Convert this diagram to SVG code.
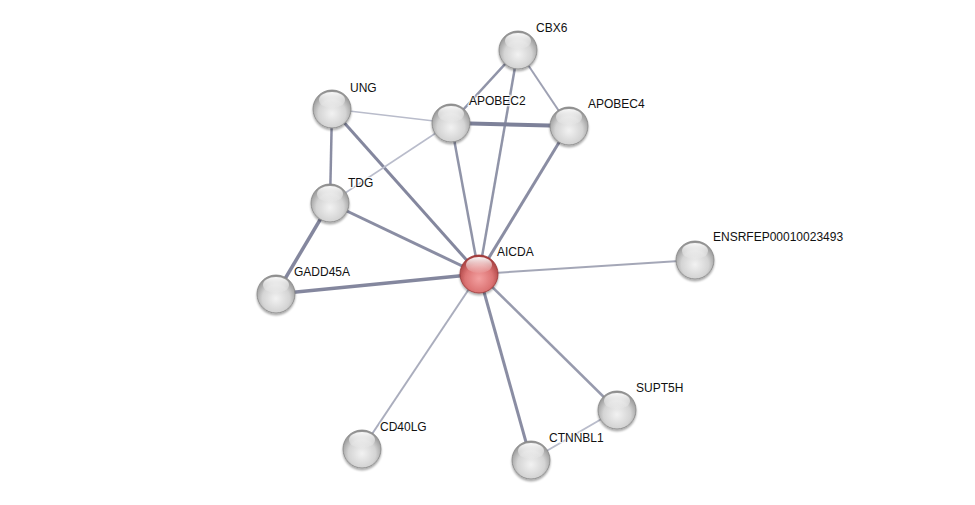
<svg xmlns="http://www.w3.org/2000/svg" width="975" height="505" viewBox="0 0 975 505">
<defs>
<radialGradient id="gGray" cx="0.5" cy="0.62" r="0.6">
<stop offset="0" stop-color="#f2f2f2"/>
<stop offset="0.6" stop-color="#d4d4d4"/>
<stop offset="1" stop-color="#909090"/>
</radialGradient>
<radialGradient id="gRed" cx="0.5" cy="0.62" r="0.6">
<stop offset="0" stop-color="#f3a0a0"/>
<stop offset="0.6" stop-color="#dc7474"/>
<stop offset="1" stop-color="#a33b3b"/>
</radialGradient>
<linearGradient id="hl" x1="0" y1="0" x2="0" y2="1">
<stop offset="0" stop-color="#ffffff" stop-opacity="0.95"/>
<stop offset="1" stop-color="#ffffff" stop-opacity="0.05"/>
</linearGradient>
<filter id="sh" x="-30%" y="-30%" width="160%" height="170%">
<feGaussianBlur in="SourceAlpha" stdDeviation="1.2"/>
<feOffset dy="1.5" result="b"/>
<feComponentTransfer><feFuncA type="linear" slope="0.35"/></feComponentTransfer>
<feMerge><feMergeNode/><feMergeNode in="SourceGraphic"/></feMerge>
</filter>
</defs>
<style>
.e{stroke:#7d8199;stroke-linecap:butt;fill:none}
.lt{stroke:#b9bccb}
.n{fill:url(#gGray);stroke:#858585;stroke-width:0.8;filter:url(#sh)}
.r{fill:url(#gRed);stroke:#9a3535;stroke-width:0.8;filter:url(#sh)}
.h{fill:url(#hl)}
text{font-family:"Liberation Sans",Arial,sans-serif;font-size:12px;fill:#111;paint-order:stroke;stroke:#fff;stroke-width:2.5px;stroke-opacity:0.8}
</style>
<rect width="975" height="505" fill="#fff"/>
<g id="edges">
<line class="e" x1="518" y1="50" x2="451" y2="123" stroke-width="2.5" stroke-opacity="0.85"/>
<line class="e" x1="518" y1="50" x2="569" y2="126" stroke-width="2" stroke-opacity="0.75"/>
<line class="e" x1="518" y1="50" x2="479" y2="274" stroke-width="2.5" stroke-opacity="0.85"/>
<line class="e lt" x1="332" y1="109" x2="451" y2="123" stroke-width="1.5"/>
<line class="e" x1="332" y1="109" x2="330" y2="203" stroke-width="2.5" stroke-opacity="0.9"/>
<line class="e" x1="332" y1="109" x2="479" y2="274" stroke-width="3" stroke-opacity="0.95"/>
<line class="e" x1="451" y1="123" x2="569" y2="126" stroke-width="4" stroke="#6c7190"/>
<line class="e lt" x1="451" y1="123" x2="330" y2="203" stroke-width="1.5"/>
<line class="e" x1="451" y1="123" x2="479" y2="274" stroke-width="2.5" stroke-opacity="0.85"/>
<line class="e" x1="569" y1="126" x2="479" y2="274" stroke-width="3" stroke-opacity="0.9"/>
<line class="e" x1="330" y1="203" x2="479" y2="274" stroke-width="3" stroke-opacity="0.9"/>
<line class="e" x1="330" y1="203" x2="276" y2="294" stroke-width="3.5" stroke-opacity="0.95"/>
<line class="e" x1="276" y1="294" x2="479" y2="274" stroke-width="3.5" stroke-opacity="0.95"/>
<line class="e" x1="479" y1="274" x2="695" y2="260" stroke-width="2" stroke-opacity="0.7"/>
<line class="e" x1="479" y1="274" x2="362" y2="449" stroke-width="2" stroke-opacity="0.65"/>
<line class="e" x1="479" y1="274" x2="531" y2="460" stroke-width="3" stroke-opacity="0.9"/>
<line class="e" x1="479" y1="274" x2="617" y2="410" stroke-width="2.5" stroke-opacity="0.8"/>
<line class="e lt" x1="617" y1="410" x2="531" y2="460" stroke-width="2"/>
</g>
<g id="CBX6"><circle class="n" cx="518" cy="50" r="19"/><ellipse class="h" cx="518" cy="41" rx="13" ry="8"/><text x="536" y="32">CBX6</text></g>
<g id="UNG"><circle class="n" cx="332" cy="109" r="19"/><ellipse class="h" cx="332" cy="100" rx="13" ry="8"/><text x="350" y="92">UNG</text></g>
<g id="APOBEC2"><circle class="n" cx="451" cy="123" r="19"/><ellipse class="h" cx="451" cy="114" rx="13" ry="8"/><text x="469" y="105">APOBEC2</text></g>
<g id="APOBEC4"><circle class="n" cx="569" cy="126" r="19"/><ellipse class="h" cx="569" cy="117" rx="13" ry="8"/><text x="588" y="108">APOBEC4</text></g>
<g id="TDG"><circle class="n" cx="330" cy="203" r="19"/><ellipse class="h" cx="330" cy="194" rx="13" ry="8"/><text x="348" y="187">TDG</text></g>
<g id="GADD45A"><circle class="n" cx="276" cy="294" r="19"/><ellipse class="h" cx="276" cy="285" rx="13" ry="8"/><text x="294" y="276">GADD45A</text></g>
<g id="AICDA"><circle class="r" cx="479" cy="274" r="19"/><ellipse class="h" cx="479" cy="265" rx="13" ry="8"/><text x="497" y="256">AICDA</text></g>
<g id="ENSRFEP00010023493"><circle class="n" cx="695" cy="260" r="19"/><ellipse class="h" cx="695" cy="251" rx="13" ry="8"/><text x="713" y="241">ENSRFEP00010023493</text></g>
<g id="SUPT5H"><circle class="n" cx="617" cy="410" r="19"/><ellipse class="h" cx="617" cy="401" rx="13" ry="8"/><text x="636" y="392">SUPT5H</text></g>
<g id="CD40LG"><circle class="n" cx="362" cy="449" r="19"/><ellipse class="h" cx="362" cy="440" rx="13" ry="8"/><text x="380" y="431">CD40LG</text></g>
<g id="CTNNBL1"><circle class="n" cx="531" cy="460" r="19"/><ellipse class="h" cx="531" cy="451" rx="13" ry="8"/><text x="549" y="442">CTNNBL1</text></g>
</svg>
